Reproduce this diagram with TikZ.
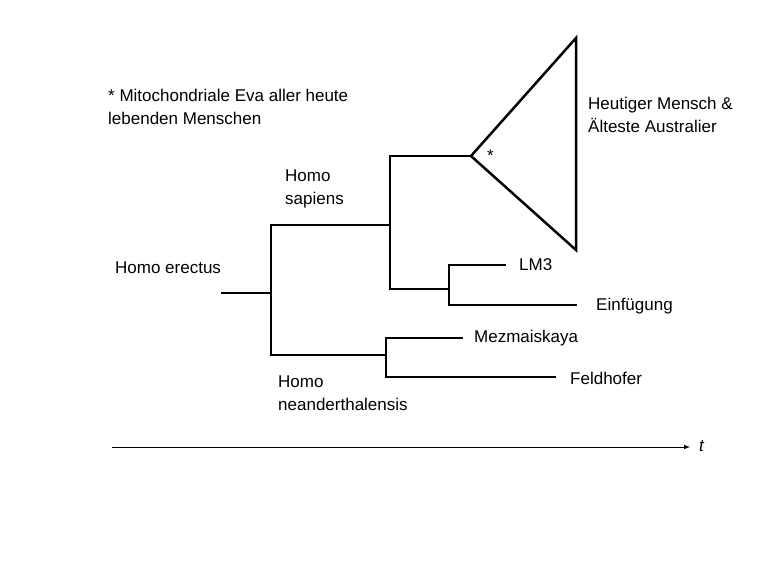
\documentclass[tikz,border=0pt]{standalone}
\usepackage{fontspec}
\setmainfont{Liberation Sans}
\begin{document}
\begin{tikzpicture}[x=1pt,y=-1pt,
  br/.style={line width=2.5pt,line cap=rect},
  lbl/.style={anchor=west,inner sep=0pt,font=\fontsize{17}{23}\selectfont,align=left}]
\useasboundingbox (0,0) rectangle (768,571);
\coordinate (r0) at (222,293); \coordinate (r1) at (271,293);
\coordinate (a) at (271,225); \coordinate (b) at (271,355);
\coordinate (a1) at (390,225); \coordinate (a2) at (390,156); \coordinate (a3) at (390,289);
\coordinate (apex) at (471,156); \coordinate (tt) at (576,38); \coordinate (tb) at (576,250);
\coordinate (c0) at (449,289); \coordinate (c1) at (449,265); \coordinate (c2) at (449,305);
\coordinate (lm) at (505,265); \coordinate (ei) at (576,305);
\coordinate (b1) at (386,355); \coordinate (b2) at (386,338); \coordinate (b3) at (386,377);
\coordinate (me) at (462,338); \coordinate (fe) at (555,377);
\draw[br] (r0) -- (r1);
\draw[br] (a) -- (b);
\draw[br] (a) -- (a1);
\draw[br] (a2) -- (a3);
\draw[br] (a2) -- (apex);
\draw[br,line join=miter] (apex) -- (tt) -- (tb) -- cycle;
\draw[br] (a3) -- (c0);
\draw[br] (c1) -- (c2);
\draw[br] (c1) -- (lm);
\draw[br] (c2) -- (ei);
\draw[br] (b) -- (b1);
\draw[br] (b2) -- (b3);
\draw[br] (b2) -- (me);
\draw[br] (b3) -- (fe);
\node[lbl] (eva) at (108,107) {* Mitochondriale Eva aller heute\\lebenden Menschen};
\node[lbl] (hm) at (588,115) {Heutiger Mensch \&\\Älteste Australier};
\node[lbl] (hs) at (285,189) {Homo\\sapiens};
\node[lbl] (he) at (115,268) {Homo erectus};
\node[lbl] (l3) at (519,265) {LM3};
\node[lbl] (ein) at (596,306) {Einfügung};
\node[lbl] (mez) at (474,338) {Mezmaiskaya};
\node[lbl] (fel) at (570,378) {Feldhofer};
\node[lbl] (hn) at (278,393) {Homo\\neanderthalensis};
\node[lbl] (st) at (487,156) {*};
\coordinate (t0) at (112,447); \coordinate (t1) at (690,447);
\draw[line width=1pt,-latex] (t0) -- (t1);
\node[lbl,font=\fontsize{17}{23}\selectfont\itshape] (t) at (699,446) {t};
\end{tikzpicture}
\end{document}
